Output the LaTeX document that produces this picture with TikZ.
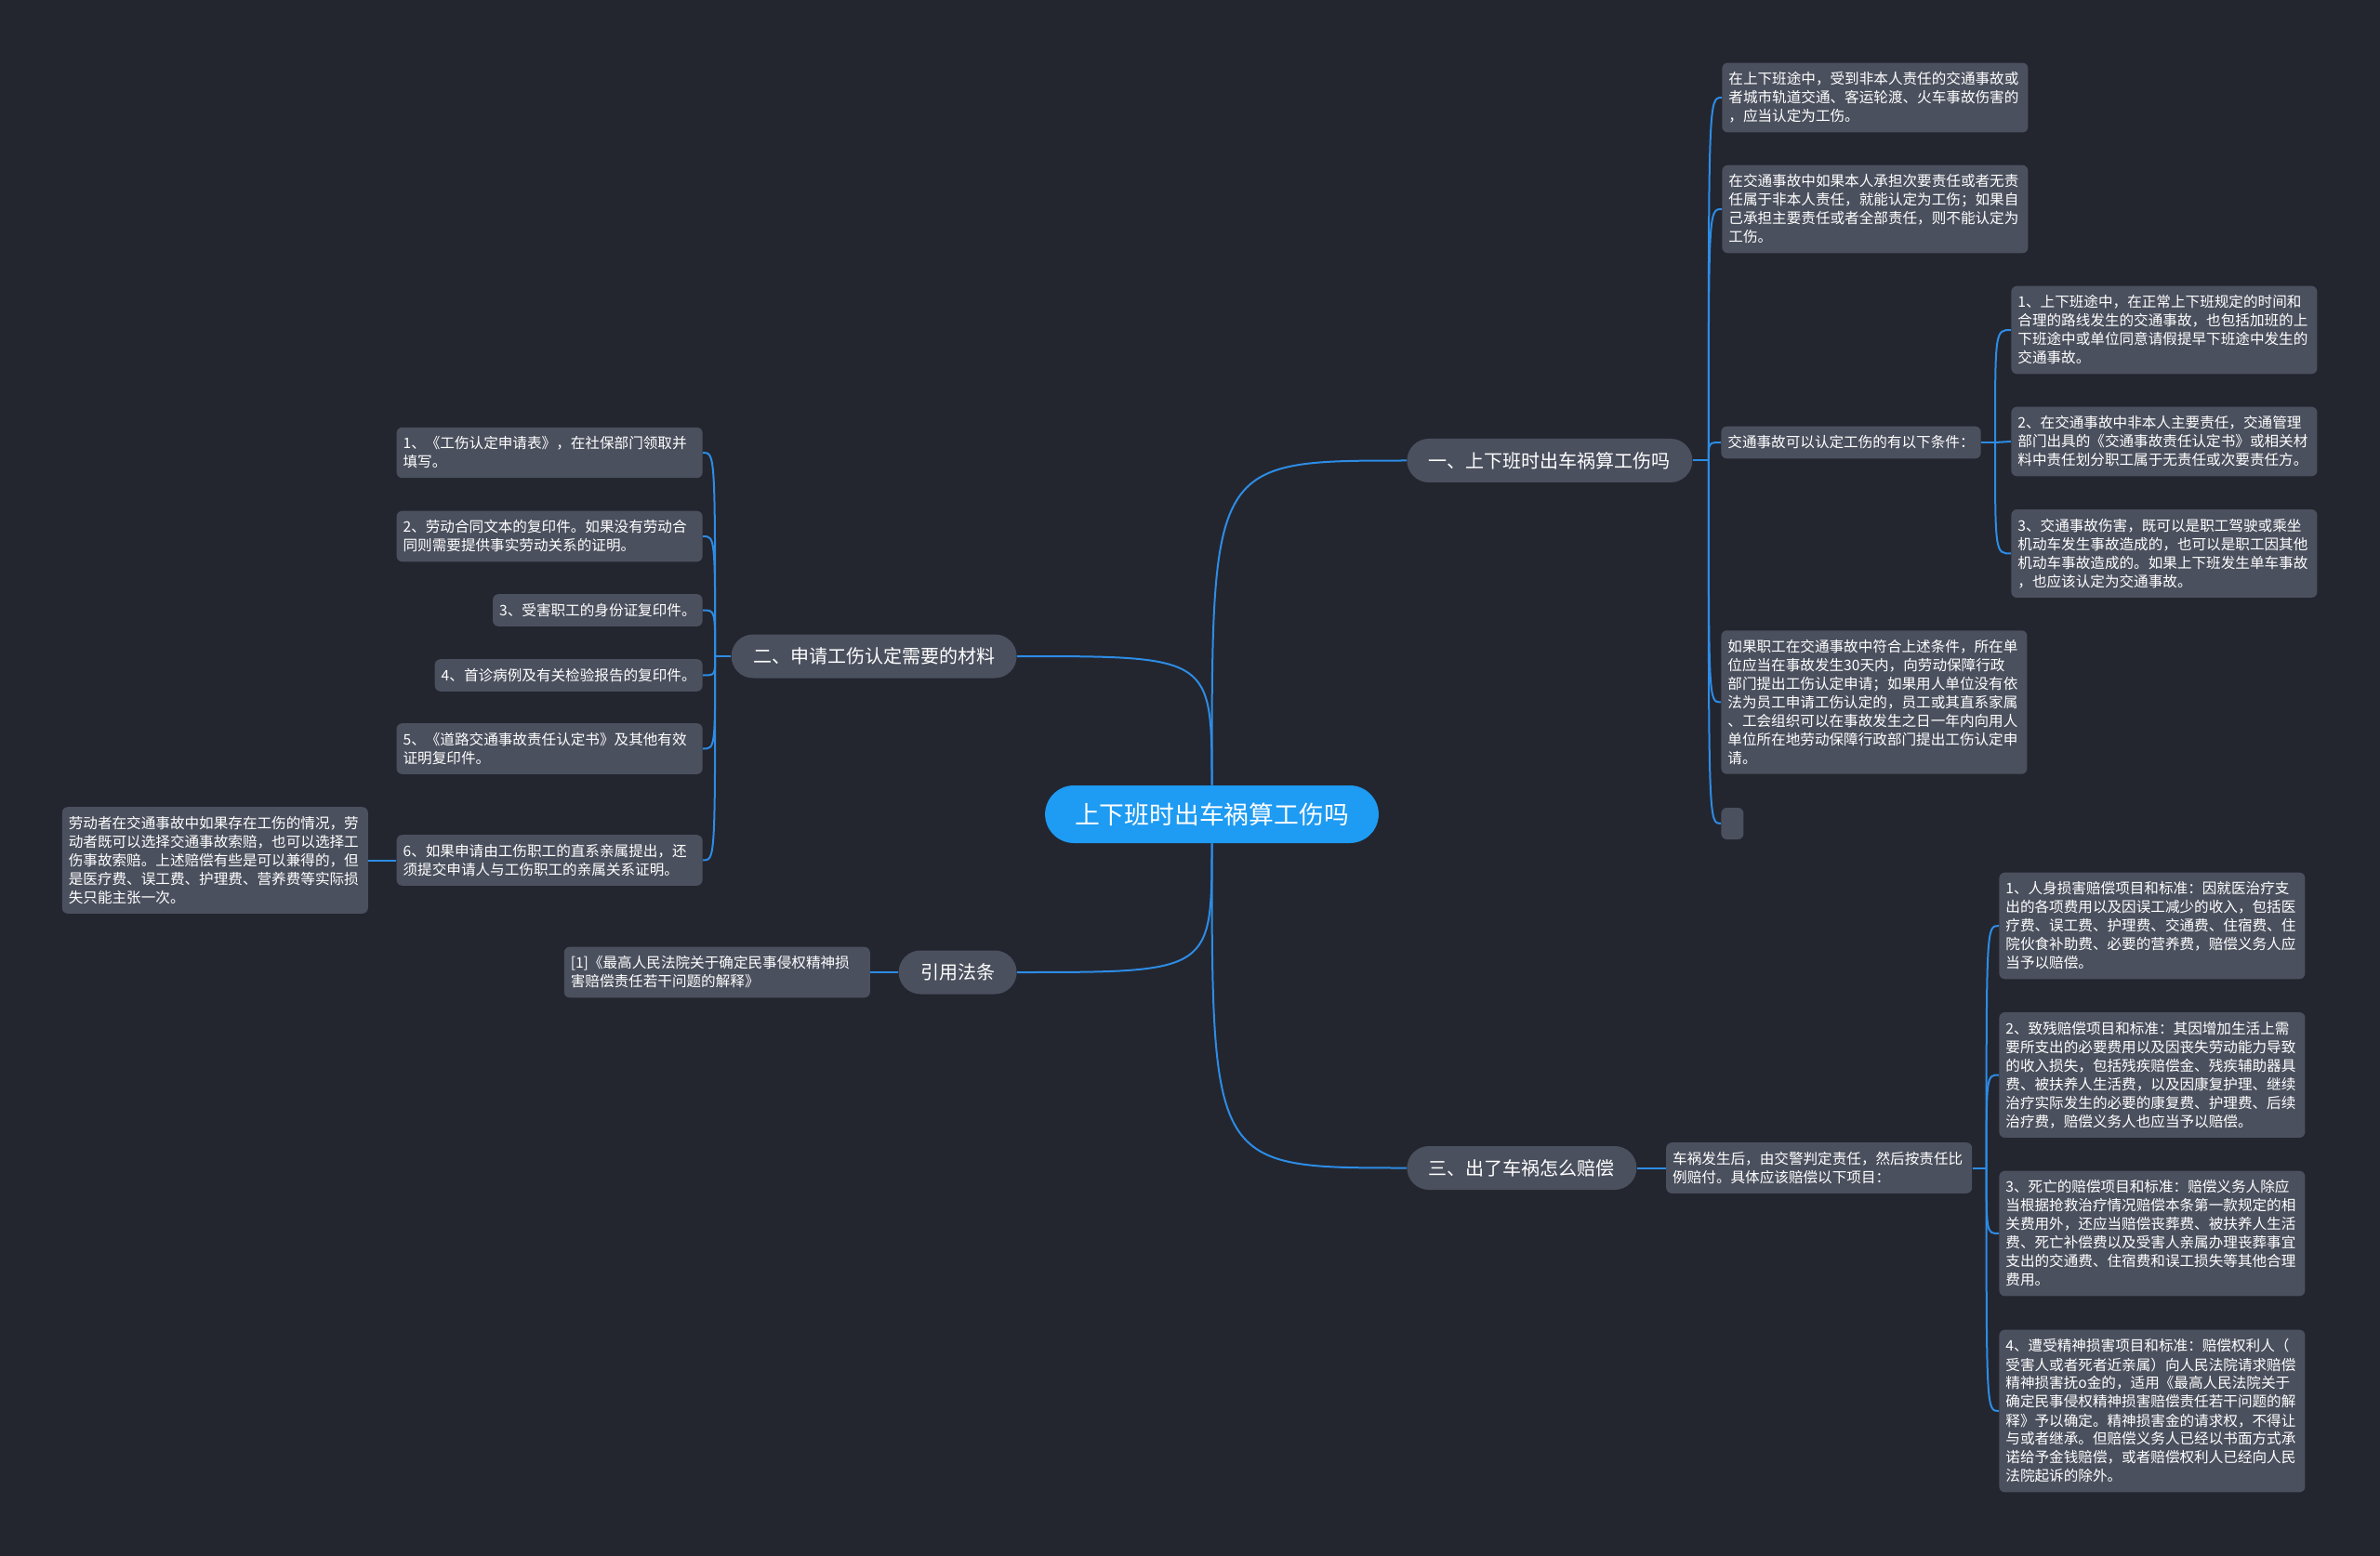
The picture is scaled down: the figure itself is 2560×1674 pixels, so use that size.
\documentclass[tikz,border=0pt]{standalone}
\usepackage{fontspec}
\setmainfont{Noto Sans CJK SC}
\usepackage{xcolor}
\usepackage{tikz}
\usetikzlibrary{positioning}

\definecolor{bgdark}{HTML}{23262F}
\definecolor{boxgrey}{HTML}{4B505E}
\definecolor{linkblue}{HTML}{2D8CE6}
\definecolor{rootblue}{HTML}{1E9BF2}

\pgfdeclarelayer{back}
\pgfsetlayers{back,main}

\begin{document}
\begin{tikzpicture}[
        x=0.5pt, y=-0.5pt,
        link/.style={draw=linkblue, line width=1pt},
        leaf/.style={rectangle, rounded corners=3pt, fill=boxgrey, text=white, align=left,
            font=\fontsize{7.8pt}{10pt}\selectfont, inner xsep=3.5pt, inner ysep=5pt},
        wide/.style={leaf, text width=157.5pt},
        pill/.style={rectangle, rounded corners=11.75pt, fill=boxgrey, text=white,
            font=\fontsize{10pt}{12pt}\selectfont, minimum height=23.5pt, inner xsep=11.75pt},
        topic/.style={rectangle, rounded corners=15.5pt, fill=rootblue, text=white,
            font=\fontsize{13.4pt}{16pt}\selectfont, minimum height=31pt, inner xsep=16pt}
    ]
        \useasboundingbox (0,0) rectangle (2560,1674);

        % Centre
        \node[topic] (Root) at (1303.5,876) {上下班时出车祸算工伤吗};

        % Branch one
        \node[pill, anchor=west] (BranchOne) at (1513,495.5) {一、上下班时出车祸算工伤吗};
        \node[wide, anchor=west] (OneA) at (1852,105) {在上下班途中，受到非本人责任的交通事故或\\者城市轨道交通、客运轮渡、火车事故伤害的\\，应当认定为工伤。};
        \node[wide, anchor=west] (OneB) at (1852,225) {在交通事故中如果本人承担次要责任或者无责\\任属于非本人责任，就能认定为工伤；如果自\\己承担主要责任或者全部责任，则不能认定为\\工伤。};
        \node[leaf, anchor=west] (Cond) at (1851,476) {交通事故可以认定工伤的有以下条件：};
        \node[wide, anchor=west] (CondA) at (2163,355) {1、上下班途中，在正常上下班规定的时间和\\合理的路线发生的交通事故，也包括加班的上\\下班途中或单位同意请假提早下班途中发生的\\交通事故。};
        \node[wide, anchor=west] (CondB) at (2163,475) {2、在交通事故中非本人主要责任，交通管理\\部门出具的《交通事故责任认定书》或相关材\\料中责任划分职工属于无责任或次要责任方。};
        \node[wide, anchor=west] (CondC) at (2163,595.5) {3、交通事故伤害，既可以是职工驾驶或乘坐\\机动车发生事故造成的，也可以是职工因其他\\机动车事故造成的。如果上下班发生单车事故\\，也应该认定为交通事故。};
        \node[wide, anchor=west] (OneD) at (1851,755.5) {如果职工在交通事故中符合上述条件，所在单\\位应当在事故发生30天内，向劳动保障行政\\部门提出工伤认定申请；如果用人单位没有依\\法为员工申请工伤认定的，员工或其直系家属\\、工会组织可以在事故发生之日一年内向用人\\单位所在地劳动保障行政部门提出工伤认定申\\请。};
        \node[leaf, anchor=west, inner sep=0pt, minimum width=12pt, minimum height=17pt] (OneE) at (1851,886) {};

        % Branch two
        \node[pill, anchor=east] (BranchTwo) at (1094,706) {二、申请工伤认定需要的材料};
        \node[wide, anchor=east] (TwoA) at (756,487) {1、《工伤认定申请表》，在社保部门领取并\\填写。};
        \node[wide, anchor=east] (TwoB) at (756,577) {2、劳动合同文本的复印件。如果没有劳动合\\同则需要提供事实劳动关系的证明。};
        \node[leaf, anchor=east] (TwoC) at (756,656.5) {3、受害职工的身份证复印件。};
        \node[leaf, anchor=east] (TwoD) at (756,726.5) {4、首诊病例及有关检验报告的复印件。};
        \node[wide, anchor=east] (TwoE) at (756,805.5) {5、《道路交通事故责任认定书》及其他有效\\证明复印件。};
        \node[wide, anchor=east] (TwoF) at (756,925.5) {6、如果申请由工伤职工的直系亲属提出，还\\须提交申请人与工伤职工的亲属关系证明。};
        \node[wide, left=15pt of TwoF] (TwoNote) {劳动者在交通事故中如果存在工伤的情况，劳\\动者既可以选择交通事故索赔，也可以选择工\\伤事故索赔。上述赔偿有些是可以兼得的，但\\是医疗费、误工费、护理费、营养费等实际损\\失只能主张一次。};

        % Citation
        \node[pill, anchor=east] (Cite) at (1094,1046) {引用法条};
        \node[wide, left=15pt of Cite] (CiteRef) {[1]《最高人民法院关于确定民事侵权精神损\\害赔偿责任若干问题的解释》};

        % Branch three
        \node[pill, anchor=west] (BranchThree) at (1513,1256.5) {三、出了车祸怎么赔偿};
        \node[wide, right=15.5pt of BranchThree] (Pay) {车祸发生后，由交警判定责任，然后按责任比\\例赔付。具体应该赔偿以下项目：};
        \node[wide, anchor=west] (PayA) at (2150,996) {1、人身损害赔偿项目和标准：因就医治疗支\\出的各项费用以及因误工减少的收入，包括医\\疗费、误工费、护理费、交通费、住宿费、住\\院伙食补助费、必要的营养费，赔偿义务人应\\当予以赔偿。};
        \node[wide, anchor=west] (PayB) at (2150,1156.5) {2、致残赔偿项目和标准：其因增加生活上需\\要所支出的必要费用以及因丧失劳动能力导致\\的收入损失，包括残疾赔偿金、残疾辅助器具\\费、被扶养人生活费，以及因康复护理、继续\\治疗实际发生的必要的康复费、护理费、后续\\治疗费，赔偿义务人也应当予以赔偿。};
        \node[wide, anchor=west] (PayC) at (2150,1327) {3、死亡的赔偿项目和标准：赔偿义务人除应\\当根据抢救治疗情况赔偿本条第一款规定的相\\关费用外，还应当赔偿丧葬费、被扶养人生活\\费、死亡补偿费以及受害人亲属办理丧葬事宜\\支出的交通费、住宿费和误工损失等其他合理\\费用。};
        \node[wide, anchor=west] (PayD) at (2150,1518) {4、遭受精神损害项目和标准：赔偿权利人（\\受害人或者死者近亲属）向人民法院请求赔偿\\精神损害抚o金的，适用《最高人民法院关于\\确定民事侵权精神损害赔偿责任若干问题的解\\释》予以确定。精神损害金的请求权，不得让\\与或者继承。但赔偿义务人已经以书面方式承\\诺给予金钱赔偿，或者赔偿权利人已经向人民\\法院起诉的除外。};

        \begin{pgfonlayer}{back}
        % Background
        \fill[bgdark] (0,0) rectangle (2560,1674);

        % Links from the centre
        \draw[link] (Root.north) .. controls (Root.north |- BranchOne.west) .. (BranchOne.west);
        \draw[link] (Root.north) .. controls (Root.north |- BranchTwo.east) .. (BranchTwo.east);
        \draw[link] (Root.south) .. controls (Root.south |- Cite.east) .. (Cite.east);
        \draw[link] (Root.south) .. controls (Root.south |- BranchThree.west) .. (BranchThree.west);

        % Links of branch one
        \coordinate (OneJoint) at ([xshift=8.5pt]BranchOne.east);
        \draw[link] (BranchOne.east) -- (OneJoint);
        \draw[link] (OneJoint) .. controls (OneJoint |- OneA.west) .. (OneA.west);
        \draw[link] (OneJoint) .. controls (OneJoint |- OneB.west) .. (OneB.west);
        \draw[link] (OneJoint) .. controls (OneJoint |- Cond.west) .. (Cond.west);
        \draw[link] (OneJoint) .. controls (OneJoint |- OneD.west) .. (OneD.west);
        \draw[link] (OneJoint) .. controls (OneJoint |- OneE.west) .. (OneE.west);

        \coordinate (CondJoint) at ([xshift=7.5pt]Cond.east);
        \draw[link] (Cond.east) -- (CondJoint);
        \draw[link] (CondJoint) .. controls (CondJoint |- CondA.west) .. (CondA.west);
        \draw[link] (CondJoint) -- (CondB.west);
        \draw[link] (CondJoint) .. controls (CondJoint |- CondC.west) .. (CondC.west);

        % Links of branch two
        \coordinate (TwoJoint) at ([xshift=-8.5pt]BranchTwo.west);
        \draw[link] (BranchTwo.west) -- (TwoJoint);
        \draw[link] (TwoJoint) .. controls (TwoJoint |- TwoA.east) .. (TwoA.east);
        \draw[link] (TwoJoint) .. controls (TwoJoint |- TwoB.east) .. (TwoB.east);
        \draw[link] (TwoJoint) .. controls (TwoJoint |- TwoC.east) .. (TwoC.east);
        \draw[link] (TwoJoint) .. controls (TwoJoint |- TwoD.east) .. (TwoD.east);
        \draw[link] (TwoJoint) .. controls (TwoJoint |- TwoE.east) .. (TwoE.east);
        \draw[link] (TwoJoint) .. controls (TwoJoint |- TwoF.east) .. (TwoF.east);
        \draw[link] (TwoF.west) -- (TwoNote.east);

        % Citation link
        \draw[link] (Cite.west) -- (CiteRef.east);

        % Links of branch three
        \draw[link] (BranchThree.east) -- (Pay.west);
        \coordinate (PayJoint) at ([xshift=7.5pt]Pay.east);
        \draw[link] (Pay.east) -- (PayJoint);
        \draw[link] (PayJoint) .. controls (PayJoint |- PayA.west) .. (PayA.west);
        \draw[link] (PayJoint) .. controls (PayJoint |- PayB.west) .. (PayB.west);
        \draw[link] (PayJoint) .. controls (PayJoint |- PayC.west) .. (PayC.west);
        \draw[link] (PayJoint) .. controls (PayJoint |- PayD.west) .. (PayD.west);
        \end{pgfonlayer}
    \end{tikzpicture}
\end{document}
